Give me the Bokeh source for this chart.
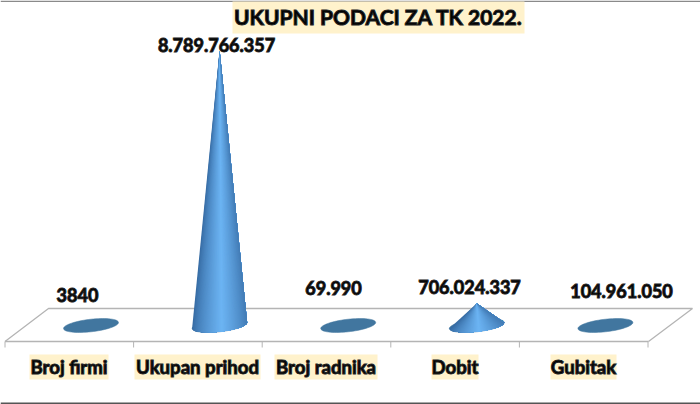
import math
from bokeh.plotting import figure
from bokeh.core.properties import value
from bokeh.embed import file_html
from bokeh.resources import INLINE

categories = ["Broj firmi", "Ukupan prihod", "Broj radnika", "Dobit", "Gubitak"]
values = [3840, 8789766357, 69990, 706024337, 104961050]
value_labels = ["3840", "8.789.766.357", "69.990", "706.024.337", "104.961.050"]
title_text = "UKUPNI PODACI ZA TK 2022."

W, H = 700, 404
PX_PER_CAT = 128.6
X0_PX = 90.5       # pixel of first category cone
Y0_PX = 325.0      # pixel of zero value
PX_PER_VAL = 275.0 / 8789766357

def dx(px):
    return (px - X0_PX) / PX_PER_CAT

def dy(py):
    return (Y0_PX - py) / PX_PER_VAL

p = figure(width=W, height=H, output_backend="svg", toolbar_location=None,
           x_range=(dx(0), dx(W)), y_range=(dy(H), dy(0)),
           min_border=0, outline_line_color=None, margin=(0, 0, 0, 0))
p.axis.visible = False
p.grid.visible = False
p.background_fill_color = "white"

# frame edges of the picture
p.line([dx(0), dx(W)], [dy(0.8)] * 2, line_color="#8a8a8a", line_width=1.6)
p.line([dx(0), dx(W)], [dy(402.8)] * 2, line_color="#555555", line_width=1.5)

# floor of the 3D plot
GRAY = "#b4b4b4"
p.line([dx(4.5), dx(48), dx(692), dx(648)], [dy(341), dy(308), dy(308), dy(341)],
       line_color=GRAY, line_width=1.3)
p.line([dx(4.5), dx(648)], [dy(341), dy(341)], line_color=GRAY, line_width=1.3)
for i in range(len(categories) + 1):
    tx = 4.5 + i * PX_PER_CAT
    p.line([dx(tx), dx(tx)], [dy(341), dy(347)], line_color=GRAY, line_width=1)

# cones
A, B, TILT = 27.5, 6.3, 3.0
BASE = "#41769f"
DARK = (52, 104, 160)
LIGHT = (108, 180, 243)
N = 60

def shade(u):
    t = max(0.0, 1 - abs(u - 0.08) / 1.08) ** 0.7
    return "#%02x%02x%02x" % tuple(round(d + (l - d) * t) for d, l in zip(DARK, LIGHT))

def base_curve(cx, u):
    return cx + A * u, Y0_PX + B * math.sqrt(max(0, 1 - u * u)) - TILT * u

for i, v in enumerate(values):
    cx = X0_PX + i * PX_PER_CAT
    angles = [2 * math.pi * k / 72 for k in range(72)]
    ex = [dx(cx + A * math.cos(a)) for a in angles]
    ey = [dy(Y0_PX + B * math.sin(a) - TILT * math.cos(a)) for a in angles]
    p.patch(ex, ey, fill_color=BASE, line_color=BASE, line_width=0.5)
    if v * PX_PER_VAL > B:
        for k in range(N):
            # each strip runs on to the right edge; the next one paints over it
            us = [-1 + 2 * j / N for j in range(k, N + 1)]
            pts = [base_curve(cx, u) for u in us]
            c = shade(-1 + 2 * (k + 0.5) / N)
            p.patch([i] + [dx(q[0]) for q in pts], [v] + [dy(q[1]) for q in pts],
                    fill_color=c, line_color=None)

LAB_FONT = value("Lato")
OUTLINE = dict(text_outline_color="#222222")
# value labels (offset from the cones as in the reference)
lab_x = [77, 216, 333, 469, 621]
lab_y = [294.5, 44.5, 287.5, 286.5, 290.5]
p.text([dx(x) for x in lab_x], [dy(y) for y in lab_y], text=value_labels,
       text_font=LAB_FONT, text_font_style="bold", text_font_size="18px",
       text_align="center", text_baseline="middle", text_color="black", **OUTLINE)

# category labels on cream boxes
box_l = [29, 134, 274, 431, 550]
box_r = [108, 260, 377, 478, 616]
p.quad(left=[dx(x) for x in box_l], right=[dx(x) for x in box_r],
       top=[dy(354)] * 5, bottom=[dy(379)] * 5, fill_color="#fff2cc", line_color=None)
p.text([dx((a + b) / 2) for a, b in zip(box_l, box_r)], [dy(366.5)] * 5, text=categories,
       text_font=LAB_FONT, text_font_style="bold", text_font_size="18.6px",
       text_align="center", text_baseline="middle", text_color="black", **OUTLINE)

# title
p.quad(left=[dx(232)], right=[dx(524)], top=[dy(1)], bottom=[dy(33)],
       fill_color="#fff2cc", line_color=None)
p.text([dx(378)], [dy(15.5)], text=[title_text], text_font=LAB_FONT,
       text_font_style="bold", text_font_size="21px",
       text_align="center", text_baseline="middle", text_color="black", **OUTLINE)

open("out.html", "w").write(file_html(p, INLINE))
